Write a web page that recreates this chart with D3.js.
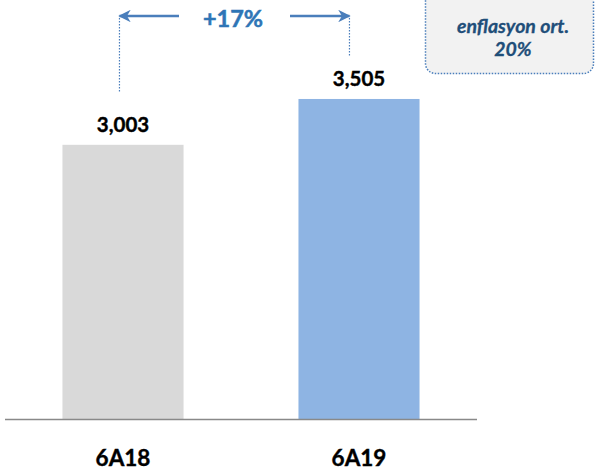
<!DOCTYPE html>
<html><head><meta charset="utf-8">
<script src="https://cdn.jsdelivr.net/npm/d3@7"></script>
<style>html,body{margin:0;padding:0;background:#fff;}svg{display:block;}</style>
</head><body>
<svg id="c" width="596" height="472"></svg>
<script>
const categories = ["6A18", "6A19"];
const values = [3003, 3505];
const valueLabels = ["3,003", "3,505"];
const colors = ["#D9D9D9", "#8EB4E3"];
const growthLabel = "+17%";
const noteLines = ["enflasyon ort.", "20%"];

const svg = d3.select("#c");
const font = "Lato, 'Open Sans', sans-serif";
const x = d3.scaleBand().domain(categories).range([5, 477]).paddingInner(0.487).paddingOuter(0.2435);
const y = d3.scaleLinear().domain([0, 4589]).range([419, 0]);

svg.selectAll("rect.bar").data(values).join("rect").attr("class","bar")
  .attr("x",(d,i)=>x(categories[i])).attr("width",x.bandwidth())
  .attr("y",d=>y(d)).attr("height",d=>y(0)-y(d)).attr("fill",(d,i)=>colors[i]);

svg.append("line").attr("x1",5).attr("x2",477).attr("y1",419.5).attr("y2",419.5)
  .attr("stroke","#898989").attr("stroke-width",1.3);

svg.selectAll("text.val").data(values).join("text").attr("class","val")
  .attr("x",(d,i)=>x(categories[i])+x.bandwidth()/2).attr("y",d=>y(d)-13)
  .attr("text-anchor","middle").attr("font-family",font).attr("font-weight","bold")
  .attr("font-size",20.5).attr("fill","#000").attr("stroke","#000").attr("stroke-width",0.4)
  .text((d,i)=>valueLabels[i]);

svg.selectAll("text.cat").data(categories).join("text").attr("class","cat")
  .attr("x",d=>x(d)+x.bandwidth()/2).attr("y",466)
  .attr("text-anchor","middle").attr("font-family",font).attr("font-weight","bold")
  .attr("font-size",22.5).attr("fill","#000").attr("stroke","#000").attr("stroke-width",0.4)
  .text(d=>d);

// arrows
const defs = svg.append("defs");
defs.append("marker").attr("id","ah").attr("viewBox","0 0 10 10").attr("refX",9).attr("refY",5)
  .attr("markerWidth",5).attr("markerHeight",5).attr("orient","auto-start-reverse")
  .append("path").attr("d","M0,0 L10,5 L0,10 L3,5 Z").attr("fill","#4A7EBB");
const cx0 = x(categories[0]) + 57, cx1 = x(categories[1]) + 51;
const ay = 16;
svg.append("line").attr("x1",179).attr("x2",cx0).attr("y1",ay).attr("y2",ay)
  .attr("stroke","#4A7EBB").attr("stroke-width",2.5).attr("marker-end","url(#ah)");
svg.append("line").attr("x1",290).attr("x2",cx1).attr("y1",ay).attr("y2",ay)
  .attr("stroke","#4A7EBB").attr("stroke-width",2.5).attr("marker-end","url(#ah)");
svg.append("line").attr("x1",cx0).attr("x2",cx0).attr("y1",18).attr("y2",92)
  .attr("stroke","#4A7EBB").attr("stroke-width",1.2).attr("stroke-dasharray","1.5,1.5");
svg.append("line").attr("x1",cx1).attr("x2",cx1).attr("y1",18).attr("y2",57)
  .attr("stroke","#4A7EBB").attr("stroke-width",1.2).attr("stroke-dasharray","1.5,1.5");
svg.append("text").attr("x",233).attr("y",27).attr("text-anchor","middle")
  .attr("font-family",font).attr("font-weight","bold").attr("font-size",23.5)
  .attr("fill","#2E75B6").attr("stroke","#2E75B6").attr("stroke-width",0.5).text(growthLabel);

// note box
svg.append("rect").attr("x",425.5).attr("y",-10).attr("width",168).attr("height",83.5).attr("rx",10)
  .attr("fill","#F2F2F2").attr("stroke","#4A7EBB").attr("stroke-width",1.5).attr("stroke-dasharray","1.5,1.5");
svg.selectAll("text.note").data(noteLines).join("text").attr("class","note")
  .attr("x",513).attr("y",(d,i)=>33+i*23).attr("text-anchor","middle")
  .attr("font-family",font).attr("font-weight","bold").attr("font-style","italic")
  .attr("font-size",19.5).attr("fill","#1F4E79").attr("stroke","#1F4E79").attr("stroke-width",0.3)
  .text(d=>d);
</script>
</body></html>
